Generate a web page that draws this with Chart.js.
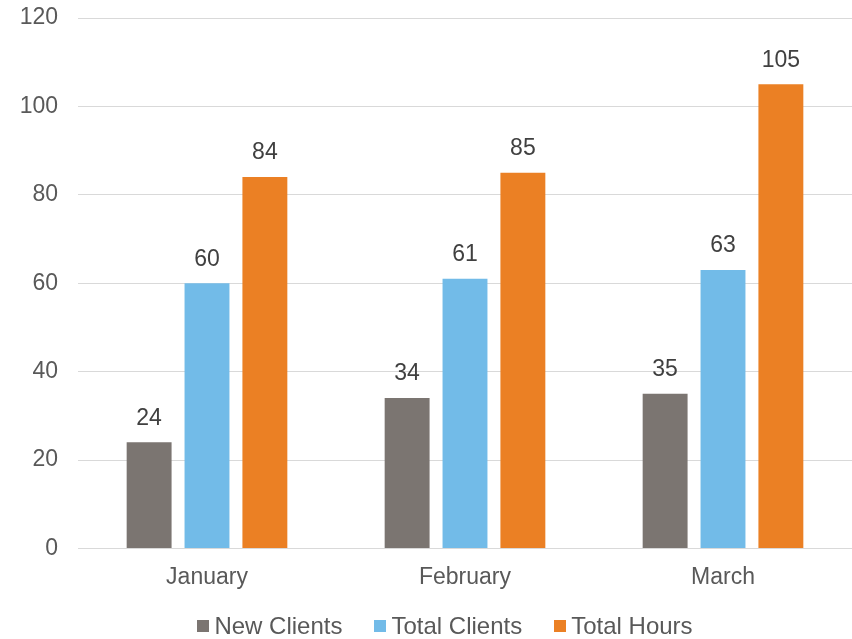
<!DOCTYPE html>
<html><head><meta charset="utf-8">
<script src="https://cdn.jsdelivr.net/npm/chart.js@4/dist/chart.umd.min.js"></script>
<style>
html,body{margin:0;padding:0;background:#fff;}
#wrap{position:relative;width:852px;height:639px;}
#legend{position:absolute;left:19px;top:612px;width:852px;display:flex;justify-content:center;align-items:center;font-family:'Liberation Sans',Arial,sans-serif;font-size:24px;color:#595959;line-height:28px;}
#legend .item{display:flex;align-items:center;margin:0 16px;}
#legend .sw{width:12px;height:12px;margin-right:5px;}
</style>
</head><body><div id="wrap"><canvas id="c" width="852" height="639"></canvas><div id="legend"></div></div>
<script>
const categories = ["January", "February", "March"];
const newClients = [24, 34, 35];
const totalClients = [60, 61, 63];
const totalHours = [84, 85, 105];
const yTicks = [0, 20, 40, 60, 80, 100, 120];

const FONT = "'Liberation Sans', Arial, sans-serif";

const valueLabels = {
  id: 'valueLabels',
  afterDatasetsDraw(chart) {
    const ctx = chart.ctx;
    ctx.save();
    ctx.font = "23px " + FONT;
    ctx.fillStyle = '#404040';
    ctx.textAlign = 'center';
    ctx.textBaseline = 'middle';
    chart.data.datasets.forEach((ds, i) => {
      const meta = chart.getDatasetMeta(i);
      meta.data.forEach((bar, j) => {
        ctx.fillText(String(ds.data[j]), bar.x, bar.y - 24);
      });
    });
    ctx.restore();
  }
};

const chart = new Chart(document.getElementById('c'), {
  type: 'bar',
  data: {
    labels: categories,
    datasets: [
      { label: 'New Clients', data: newClients, backgroundColor: '#7B7571' },
      { label: 'Total Clients', data: totalClients, backgroundColor: '#72BBE8' },
      { label: 'Total Hours', data: totalHours, backgroundColor: '#EB8024' }
    ]
  },
  options: {
    responsive: false,
    animation: false,
    devicePixelRatio: 1,
    layout: { padding: { top: 18, right: 0, left: 0, bottom: 33 } },
    datasets: { bar: { categoryPercentage: 0.673, barPercentage: 0.776 } },
    plugins: {
      legend: { display: false },
      tooltip: { enabled: false }
    },
    scales: {
      x: {
        grid: { display: false, drawTicks: false },
        border: { color: '#D9D9D9', width: 1 },
        ticks: { font: { family: FONT, size: 23 }, color: '#595959', padding: 15 }
      },
      y: {
        min: 0, max: 120,
        afterBuildTicks(scale) { scale.ticks = yTicks.map(v => ({ value: v })); },
        afterFit(scale) { scale.width = 78; scale.paddingTop = 14; scale.paddingBottom = 14; },
        grid: { color: '#D9D9D9', drawTicks: false },
        border: { display: false },
        ticks: { font: { family: FONT, size: 23 }, color: '#595959', padding: 20 }
      }
    }
  },
  plugins: [valueLabels]
});

const legendEl = document.getElementById('legend');
chart.data.datasets.forEach(ds => {
  const item = document.createElement('span');
  item.className = 'item';
  const sw = document.createElement('span');
  sw.className = 'sw';
  sw.style.background = ds.backgroundColor;
  const tx = document.createElement('span');
  tx.textContent = ds.label;
  item.appendChild(sw);
  item.appendChild(tx);
  legendEl.appendChild(item);
});
</script></body></html>
